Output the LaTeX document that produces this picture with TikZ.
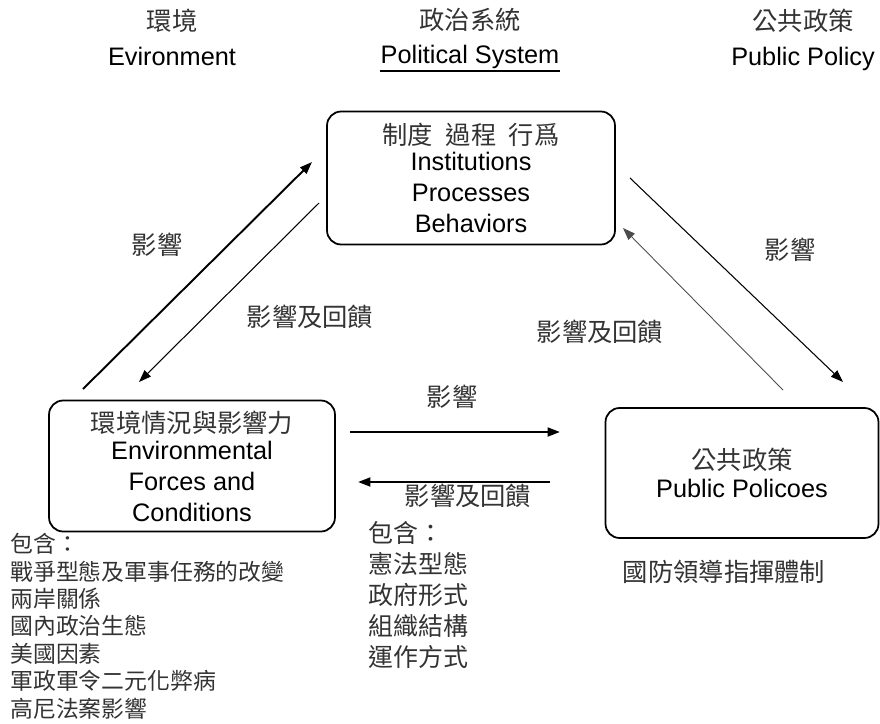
\documentclass[tikz,border=0pt]{standalone}
\usepackage{fontspec}
\setmainfont{Liberation Sans}
\newfontfamily\cjk{Noto Sans CJK TC}
\usetikzlibrary{arrows.meta}

\begin{document}
\begin{tikzpicture}[x=0.02cm,y=-0.02cm,
  box/.style={draw,line width=1pt,rounded corners=8pt,align=center,inner sep=0pt,
    font=\fontsize{14.4}{17.6}\selectfont},
  head/.style={align=center,inner sep=0pt,font=\fontsize{14.4}{19.5}\selectfont},
  lbl/.style={inner sep=0pt,text=black!80,font=\cjk\fontsize{14.4}{17.6}\selectfont},
  tip/.style={-{Triangle[length=7pt,width=5pt]}}]
\def\zh#1{{\cjk\color{black!80}#1}}
\useasboundingbox (0,0) rectangle (880,724);
% column heads
\node[head,anchor=north] (envh) at (172,9) {\zh{環境}\\Evironment};
\node[head,anchor=north] (sysh) at (470,8) {\zh{政治系統}\\Political System};
\node[head,anchor=north] (pubh) at (803,9) {\zh{公共政策}\\Public Policy};
\draw[line width=1.1pt] ([yshift=-1pt]sysh.south west) -- ([yshift=-1pt]sysh.south east);
% the three boxes
\node[box,minimum width=5.76cm,minimum height=2.66cm] (sys) at (471,178)
  {\zh{制度\hspace{.5em}過程\hspace{.5em}行爲}\\[-3pt]Institutions\\Processes\\Behaviors};
\node[box,minimum width=5.72cm,minimum height=2.62cm] (env) at (192,466)
  {\zh{環境情況與影響力}\\[-2pt]Environmental\\Forces and\\Conditions};
\node[box,minimum width=5.46cm,minimum height=2.6cm] (pub) at (742,473)
  {\zh{公共政策}\\[-2pt]Public Policoes};
% lists under the boxes
\node[anchor=north west,align=left,inner sep=0pt,text=black!80,
  font=\cjk\fontsize{13}{15.6}\selectfont] (envl) at (10,533)
  {包含：\\戰爭型態及軍事任務的改變\\兩岸關係\\國內政治生態\\美國因素\\軍政軍令二元化弊病\\高尼法案影響};
\node[anchor=north west,align=left,inner sep=0pt,text=black!80,
  font=\cjk\fontsize{14.2}{17.6}\selectfont] (sysl) at (368,521)
  {包含：\\憲法型態\\政府形式\\組織結構\\運作方式};
\node[lbl] (publ) at (724,572) {國防領導指揮體制};
% arrow ends
\coordinate (eu0) at (83,389);  \coordinate (eu1) at (312,162);
\coordinate (ed0) at (319,203); \coordinate (ed1) at (139,382);
\coordinate (pd0) at (630,178); \coordinate (pd1) at (843,382);
\coordinate (pu0) at (783,390); \coordinate (pu1) at (623,228);
\coordinate (hr0) at (350,432); \coordinate (hr1) at (560,432);
\coordinate (hl0) at (550,482); \coordinate (hl1) at (358,482);
\draw[tip,line width=1.1pt] (eu0) -- (eu1);
\draw[tip,line width=.6pt] (ed0) -- (ed1);
\draw[tip,line width=.6pt] (pd0) -- (pd1);
\draw[tip,line width=.5pt,black!70] (pu0) -- (pu1);
\draw[tip,line width=1.3pt] (hr0) -- (hr1);
\draw[tip,line width=1.3pt] (hl0) -- (hl1);
% arrow labels
\node[lbl] (le1) at (157,245) {影響};
\node[lbl] (lf1) at (310,317) {影響及回饋};
\node[lbl] (le2) at (790,250) {影響};
\node[lbl] (lf2) at (600,332) {影響及回饋};
\node[lbl] (le3) at (452,397) {影響};
\node[lbl] (lf3) at (468,496) {影響及回饋};
\end{tikzpicture}
\end{document}
